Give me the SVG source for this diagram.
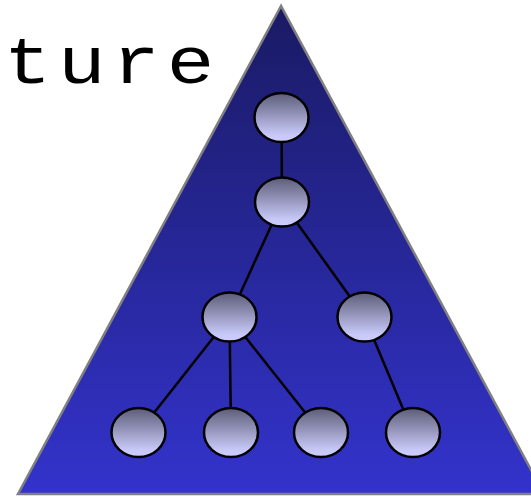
<svg xmlns="http://www.w3.org/2000/svg" width="531" height="496" viewBox="0 0 531 496">
<defs>
<linearGradient id="triGrad" x1="0" y1="0" x2="0" y2="1">
<stop offset="0" stop-color="#1a1a64"/>
<stop offset="1" stop-color="#3333cc"/>
</linearGradient>
<linearGradient id="nodeGrad" x1="0" y1="0" x2="0" y2="1">
<stop offset="0" stop-color="#5c5c78"/>
<stop offset="0.85" stop-color="#c8c8f8"/>
<stop offset="1" stop-color="#ccccff"/>
</linearGradient>
<style>
.node{fill:url(#nodeGrad);stroke:#000;stroke-width:2.5}
.edge{stroke:#000;stroke-width:2.5;fill:none}
.title{font-family:"Liberation Mono","Courier New",monospace;font-size:66px;text-anchor:middle;fill:#000}
</style>
</defs>
<rect width="531" height="496" fill="#fff"/>
<text class="title" transform="scale(1.2,1)" x="22.9 68.2 113.3 158.75" y="83">ture</text>
<polygon id="triangle" points="281,6 18,494 544,494" fill="url(#triGrad)" stroke="#808080" stroke-width="2.5"/>
<g id="connectors">
<line class="edge" x1="281.5" y1="117.5" x2="282" y2="202"/>
<line class="edge" x1="282" y1="202" x2="229.5" y2="317"/>
<line class="edge" x1="282" y1="202" x2="364.5" y2="317"/>
<line class="edge" x1="229.5" y1="317" x2="138.5" y2="432.5"/>
<line class="edge" x1="229.5" y1="317" x2="231" y2="432.5"/>
<line class="edge" x1="229.5" y1="317" x2="321" y2="432.5"/>
<line class="edge" x1="364.5" y1="317" x2="413" y2="432.5"/>
</g>
<g id="n1"><ellipse class="node" cx="281.5" cy="117.5" rx="27" ry="24.5"/></g>
<g id="n2"><ellipse class="node" cx="282" cy="202" rx="27" ry="24.5"/></g>
<g id="n3"><ellipse class="node" cx="229.5" cy="317" rx="27" ry="24.5"/></g>
<g id="n4"><ellipse class="node" cx="364.5" cy="317" rx="27" ry="24.5"/></g>
<g id="b1"><ellipse class="node" cx="138.5" cy="432.5" rx="27" ry="24.5"/></g>
<g id="b2"><ellipse class="node" cx="231" cy="432.5" rx="27" ry="24.5"/></g>
<g id="b3"><ellipse class="node" cx="321" cy="432.5" rx="27" ry="24.5"/></g>
<g id="b4"><ellipse class="node" cx="413" cy="432.5" rx="27" ry="24.5"/></g>
</svg>
